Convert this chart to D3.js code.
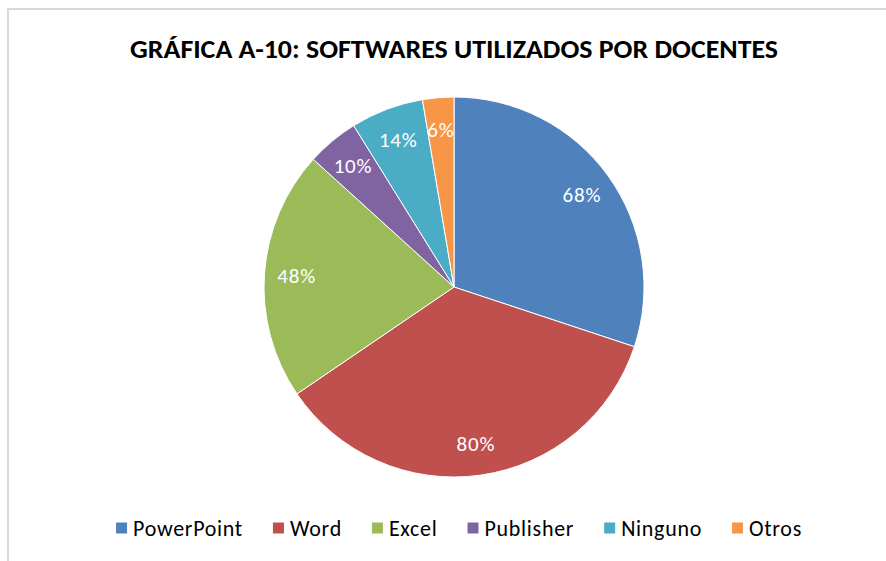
<!DOCTYPE html>
<html>
<head>
<meta charset="utf-8">
<script src="https://cdn.jsdelivr.net/npm/d3@7"></script>
<style>
body{margin:0;background:#fff;}
svg text{font-family:Carlito,Calibri,Lato,"Open Sans",sans-serif;}
</style>
</head>
<body>
<svg id="chart" width="886" height="561"></svg>
<script>
let categories=["PowerPoint","Word","Excel","Publisher","Ninguno","Otros"]
let values=[68,80,48,10,14,6]
let labels=["68%","80%","48%","10%","14%","6%"]
let colors=["#4f81bd","#c0504d","#9bbb59","#8064a2","#4bacc6","#f79646"]

let svg=d3.select("#chart")
let width=886,height=561
let cx=454,cy=287,radius=190

// outer border
svg.append("rect")
	.attr("x",8).attr("y",9)
	.attr("width",900).attr("height",600)
	.attr("fill","none")
	.attr("stroke","#d9d9d9")
	.attr("stroke-width",2)

svg.append("text")
	.attr("x",cx).attr("y",58)
	.attr("text-anchor","middle")
	.attr("font-weight","bold")
	.attr("font-size",26)
	.attr("textLength",648)
	.attr("lengthAdjust","spacingAndGlyphs")
	.attr("fill","#000")
	.text("GRÁFICA A-10: SOFTWARES UTILIZADOS POR DOCENTES")

let data=categories.map((c,i)=>({cat:c,value:values[i],label:labels[i],color:colors[i]}))

let pie=d3.pie().sort(null).value(d=>d.value)
let arc=d3.arc().innerRadius(0).outerRadius(radius)
let labelArc=d3.arc().innerRadius(radius*0.83).outerRadius(radius*0.83)

let g=svg.append("g").attr("transform",`translate(${cx},${cy})`)
let arcs=pie(data)

g.selectAll("path")
	.data(arcs)
	.enter().append("path")
	.attr("d",arc)
	.attr("fill",d=>d.data.color)
	.attr("stroke","#fff")
	.attr("stroke-width",1)

g.selectAll("text.lbl")
	.data(arcs)
	.enter().append("text")
	.attr("class","lbl")
	.attr("transform",d=>`translate(${labelArc.centroid(d)})`)
	.attr("text-anchor","middle")
	.attr("dy","0.35em")
	.attr("font-size",21)
	.attr("letter-spacing",0.8)
	.attr("fill","#fff")
	.text(d=>d.data.label)

// legend
let legend=svg.append("g")
let items=legend.selectAll("g")
	.data(data)
	.enter().append("g")
items.append("rect")
	.attr("width",11).attr("height",11)
	.attr("y",-5.5)
	.attr("fill",d=>d.color)
items.append("text")
	.attr("x",17)
	.attr("dy","0.35em")
	.attr("font-size",22)
	.attr("letter-spacing",0.7)
	.attr("fill","#000")
	.text(d=>d.cat)

let gap=30
let xpos=0
items.each(function(){
	let w=d3.select(this).select("text").node().getComputedTextLength()
	d3.select(this).attr("transform",`translate(${xpos},0)`)
	xpos+=17+w+gap
})
let total=xpos-gap
legend.attr("transform",`translate(${459-total/2},528)`)
</script>
</body>
</html>
